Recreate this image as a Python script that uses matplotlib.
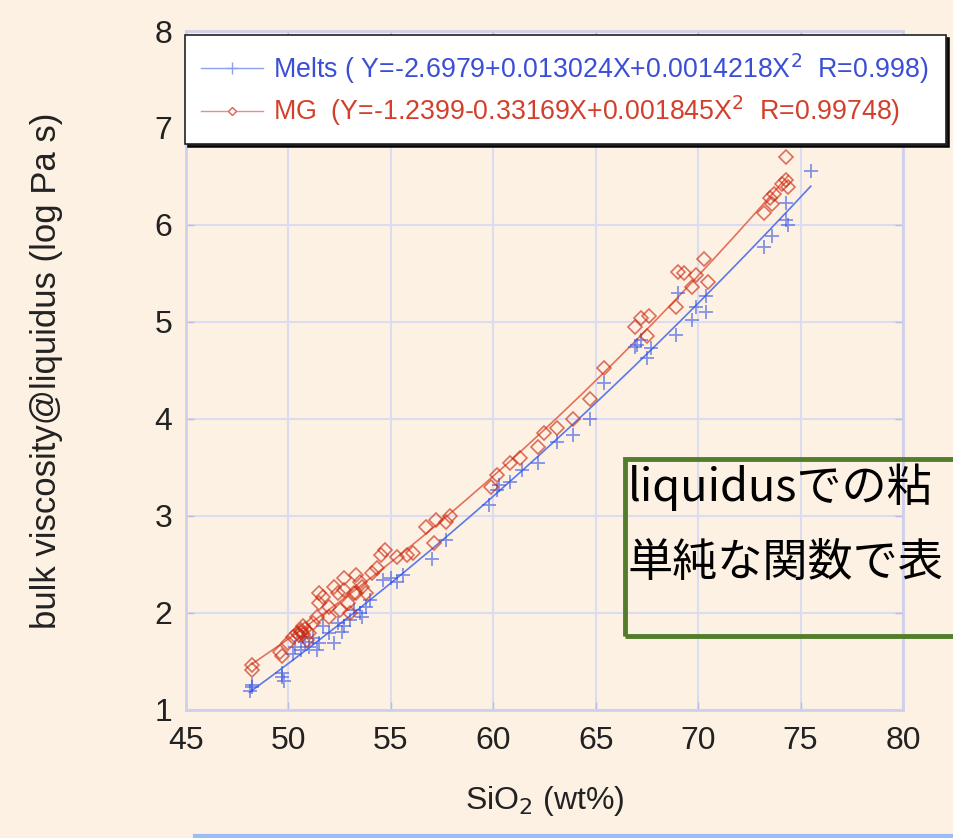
import numpy as np
import matplotlib
matplotlib.use("Agg")
import matplotlib.pyplot as plt
from matplotlib.lines import Line2D
from matplotlib.patches import Rectangle

plt.rcParams['font.family'] = ['Liberation Sans', 'DejaVu Sans']

# SiO2 (wt%) vs log viscosity at liquidus
melts_x = [48.1, 48.2, 48.2, 49.7, 49.7, 49.8, 50.2, 50.3, 50.6, 50.7, 50.8,
           51.0, 51.2, 51.4, 51.5, 51.7, 52.0, 52.2, 52.4, 52.6, 52.7, 53.0,
           53.2, 53.5, 53.6, 53.8, 54.0, 54.6, 55.0, 55.3, 55.6, 57.0, 57.7,
           59.8, 60.2, 60.3, 60.8, 61.4, 62.2, 63.1, 63.9, 64.7, 65.4, 66.9,
           67.0, 67.2, 67.5, 67.7, 68.9, 69.0, 69.7, 69.9, 70.4, 70.4, 73.2,
           73.6, 74.3, 74.4, 74.3, 75.5]
melts_y = [1.19, 1.23, 1.26, 1.34, 1.38, 1.30, 1.58, 1.65, 1.62, 1.75, 1.70,
           1.65, 1.74, 1.62, 1.69, 1.86, 1.79, 1.69, 1.90, 1.80, 1.86, 1.93,
           2.03, 2.00, 1.96, 2.06, 2.13, 2.34, 2.36, 2.32, 2.39, 2.55, 2.75,
           3.11, 3.27, 3.32, 3.35, 3.47, 3.55, 3.76, 3.83, 4.00, 4.37, 4.74,
           4.76, 4.81, 4.63, 4.73, 4.86, 5.30, 5.02, 5.15, 5.10, 5.27, 5.77,
           5.89, 6.05, 6.00, 6.23, 6.56]

mg_x = [48.2, 48.2, 49.6, 49.7, 50.0, 50.2, 50.4, 50.5, 50.6, 50.6, 50.7,
        50.7, 50.8, 50.9, 51.0, 51.2, 51.4, 51.5, 51.5, 51.7, 52.0, 52.0,
        52.2, 52.4, 52.5, 52.7, 52.7, 52.9, 53.0, 53.2, 53.3, 53.3, 53.5,
        53.6, 53.8, 54.1, 54.3, 54.5, 54.7, 55.3, 55.8, 56.1, 56.7, 57.1,
        57.2, 57.7, 57.9, 59.9, 60.2, 60.8, 61.3, 62.2, 62.5, 63.1, 63.9,
        64.7, 65.4, 66.9, 67.2, 67.6, 67.5, 68.9, 69.0, 69.3, 69.7, 69.9,
        70.5, 70.3, 73.2, 73.6, 73.5, 73.7, 74.1, 74.3, 74.4, 74.3]
mg_y = [1.46, 1.41, 1.60, 1.55, 1.69, 1.75, 1.79, 1.77, 1.82, 1.80, 1.86,
        1.78, 1.83, 1.72, 1.79, 1.90, 1.96, 2.10, 2.20, 2.16, 1.96, 2.06,
        2.27, 2.20, 2.03, 2.24, 2.36, 2.10, 2.00, 2.20, 2.20, 2.39, 2.32,
        2.27, 2.20, 2.41, 2.46, 2.60, 2.65, 2.58, 2.60, 2.62, 2.88, 2.72,
        2.96, 2.94, 3.00, 3.30, 3.42, 3.54, 3.60, 3.71, 3.85, 3.91, 4.00,
        4.21, 4.52, 4.95, 5.04, 5.06, 4.85, 5.15, 5.51, 5.50, 5.36, 5.48,
        5.41, 5.65, 6.12, 6.22, 6.28, 6.32, 6.42, 6.46, 6.39, 6.70]

melts_label = "Melts ( Y=-2.6979+0.013024X+0.0014218X$^2$  R=0.998)"
mg_label = "MG  (Y=-1.2399-0.33169X+0.001845X$^2$  R=0.99748)"
note_lines = ["liquidusでの粘", "単純な関数で表"]

bg = '#fdf1e4'
frame = '#cfd0ec'
blue = '#3352e6'
red = '#cc2a10'

fig = plt.figure(figsize=(9.54, 8.38), dpi=100, facecolor=bg)
ax = fig.add_axes([0.195, 0.153, 0.7515, 0.81])
ax.set_facecolor(bg)

# quadratic fits from the points
for xs, ys, c in [(melts_x, melts_y, '#5b78ea'), (mg_x, mg_y, '#e27258')]:
    p = np.polyfit(xs, ys, 2)
    xx = np.linspace(min(xs), max(xs), 200)
    ax.plot(xx, np.polyval(p, xx), color=c, lw=1.2, zorder=2)

ax.plot(melts_x, melts_y, ls='none', marker='+', ms=10, mew=1.3,
        color=blue, alpha=0.6, zorder=3)
ax.plot(mg_x, mg_y, ls='none', marker='D', ms=7, mew=1.2, mfc='none',
        mec=red, alpha=0.65, zorder=3)

ax.set_xlim(45, 80)
ax.set_ylim(1, 8)
ax.set_xticks(range(45, 81, 5))
ax.set_yticks(range(1, 9))
ax.grid(True, color='#dcdcf0', lw=1.5)
ax.set_axisbelow(True)
for s in ax.spines.values():
    s.set_color(frame)
    s.set_linewidth(2)
ax.tick_params(direction='in', length=6, width=1, color='#b8bce6',
               labelsize=23, labelcolor='#222222', top=True, right=True)
ax.tick_params(axis='x', pad=12)
ax.tick_params(axis='y', pad=10)
ax.set_xlabel("SiO$_2$ (wt%)", fontsize=23, color='#222222', labelpad=20)
ax.set_ylabel("bulk viscosity@liquidus (log Pa s)", fontsize=25,
              color='#222222', labelpad=66)

handles = [Line2D([], [], color='#8ea0ee', lw=1, marker='+', ms=8, mew=1),
           Line2D([], [], color='#e89080', lw=1, marker='D', ms=4, mfc='white',
                  mec='#e06050', mew=1)]
leg = fig.legend(handles, [melts_label, mg_label], loc='upper left',
                 bbox_to_anchor=(185 / 954, 1 - 35 / 838, 761 / 954, 0.0),
                 mode='expand', borderaxespad=0, fontsize=19.3,
                 handlelength=2.3, handletextpad=0.4,
                 labelspacing=0.3, borderpad=0.6, fancybox=False,
                 framealpha=1, edgecolor='#222222',
                 shadow={'color': 'black', 'alpha': 0.9})
leg.get_frame().set_linewidth(1.2)
for t, c in zip(leg.get_texts(), ['#3a4fd6', '#d2402c']):
    t.set_color(c)

# note box on the slide
fig.patches.append(Rectangle((625 / 954, 1 - 636 / 838), 0.5, 177 / 838,
                             transform=fig.transFigure, fill=False,
                             edgecolor='#527d2c', lw=3.5, zorder=5))
for line, ypx in zip(note_lines, [487, 563]):
    fig.text(628 / 954, 1 - ypx / 838, line, va='center', ha='left',
             fontsize=32.5, color='black',
             family=['Noto Sans CJK JP', 'DejaVu Sans'], zorder=6)

fig.add_artist(Line2D([195 / 954, 1.0], [0.002, 0.002], color='#9dbcf5',
                      lw=3, transform=fig.transFigure))

fig.savefig('out.png', dpi=100, facecolor=bg)
